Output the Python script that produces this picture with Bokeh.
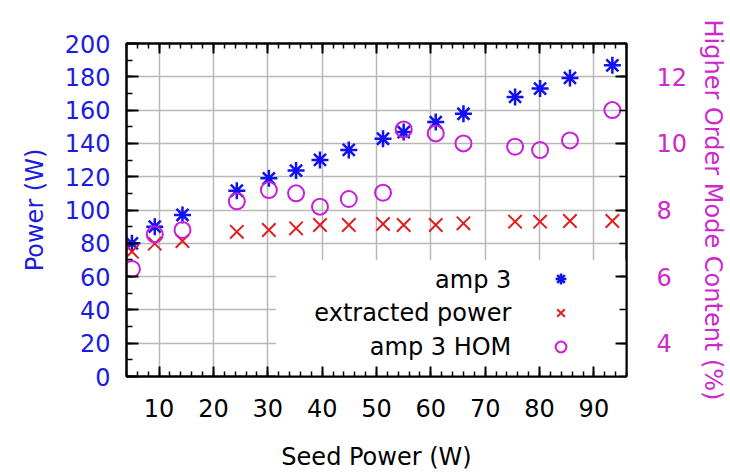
from bokeh.plotting import figure
from bokeh.models import (Range1d, LinearAxis, SingleIntervalTicker, Legend, LegendItem,
                          Label, BoxAnnotation)
from bokeh.embed import file_html
from bokeh.resources import INLINE

# ---- data ----
seed_power = [5.0, 9.2, 14.3, 24.3, 30.2, 35.2, 39.6, 44.9, 51.2, 55.0, 60.9, 66.0, 75.5, 80.1, 85.6, 93.4]
amp3_power = [80.0, 90.0, 97.0, 111.6, 119.0, 123.7, 130.1, 136.1, 142.8, 146.8, 152.8, 157.8, 167.9, 172.9, 179.3, 186.9]
extracted_power = [75.0, 79.8, 81.4, 86.9, 88.0, 89.0, 91.0, 91.0, 91.6, 91.0, 91.0, 92.0, 93.0, 93.0, 93.4, 93.4]
amp3_hom = [6.23, 7.27, 7.4, 8.26, 8.6, 8.5, 8.1, 8.33, 8.52, 10.42, 10.3, 10.0, 9.9, 9.8, 10.09, 11.0]
series_names = ["amp 3", "extracted power", "amp 3 HOM"]

FONT = "DejaVu Sans"
BLUE_TXT = "#1c1ce0"
BLUE = "#1010f0"
RED = "#e02020"
MAG = "#c81ed8"
MAG_TXT = "#cc2acc"

p = figure(width=730, height=476, output_backend="svg", toolbar_location=None,
           x_range=Range1d(4, 96), y_range=Range1d(0, 200),
           min_border_left=126, min_border_right=100, min_border_top=43, min_border_bottom=100)
p.extra_y_ranges = {"hom": Range1d(3, 13)}
p.outline_line_color = "black"
p.outline_line_width = 2
p.background_fill_color = "white"
p.border_fill_color = "white"

xt = SingleIntervalTicker(interval=10, num_minor_ticks=5)
yt = SingleIntervalTicker(interval=20, num_minor_ticks=2)
rt = SingleIntervalTicker(interval=2, num_minor_ticks=2)


def style_axis(ax, color):
    ax.axis_line_color = "black"
    ax.axis_line_width = 2
    ax.major_tick_line_color = "black"
    ax.minor_tick_line_color = "black"
    ax.major_tick_line_width = 2
    ax.minor_tick_line_width = 1.5
    ax.major_tick_in = 10
    ax.major_tick_out = 0
    ax.minor_tick_in = 5
    ax.minor_tick_out = 0
    ax.major_label_text_font = FONT
    ax.major_label_text_font_size = "24px"
    ax.major_label_text_color = color
    ax.axis_label_text_font = FONT
    ax.axis_label_text_font_size = "24px"
    ax.axis_label_text_font_style = "normal"
    ax.axis_label_text_color = color


xa = p.xaxis[0]
xa.ticker = xt
style_axis(xa, "black")
xa.axis_label = "Seed Power (W)"
xa.major_label_standoff = 22
xa.axis_label_standoff = 23

ya = p.yaxis[0]
ya.ticker = yt
style_axis(ya, BLUE_TXT)
ya.axis_label = "Power (W)"
ya.major_label_standoff = 16
ya.axis_label_standoff = 13
ya.minor_tick_in = 6
ya.major_tick_in = 12

ra = LinearAxis(y_range_name="hom", ticker=rt)
style_axis(ra, MAG_TXT)
ra.axis_label = "Higher Order Mode Content (%)"
ra.major_label_standoff = 30
ra.axis_label_standoff = 9
ra.minor_tick_in = 7
ra.major_tick_in = 11
p.add_layout(ra, "right")

ta = LinearAxis(ticker=xt)
style_axis(ta, "black")
ta.major_label_text_alpha = 0
ta.major_label_text_font_size = "1px"
ta.major_label_standoff = 0
p.add_layout(ta, "above")

for g, t in ((p.xgrid[0], xt), (p.ygrid[0], yt)):
    g.ticker = t
    g.grid_line_color = "#b8b8b8"
    g.grid_line_width = 1.5

# white legend background (hides grid lines)
p.add_layout(BoxAnnotation(left=31.5, top=70, fill_color="white", fill_alpha=1,
                           line_color=None, level="underlay"))

r1 = p.scatter(seed_power, amp3_power, marker="asterisk", size=17, line_color=BLUE, line_width=2.5)
r2 = p.scatter(seed_power, extracted_power, marker="x", size=19, line_color=RED, line_width=2)
r3 = p.scatter(seed_power, amp3_hom, marker="circle", size=16, fill_color=None,
               line_color=MAG, line_width=2, y_range_name="hom")

legend = Legend(items=[LegendItem(label=" ", renderers=[r]) for r in (r1, r2, r3)],
                location=(421, 16), glyph_width=27, glyph_height=27, spacing=7,
                padding=0, margin=0, border_line_color=None, background_fill_alpha=0,
                label_text_font_size="1px", label_standoff=0, label_width=1, label_height=27)
p.add_layout(legend, "center")

for name, yv in zip(series_names, [57.8, 38.0, 17.5]):
    p.add_layout(Label(x=74.8, y=yv, text=name, text_align="right", text_baseline="middle",
                       text_font=FONT, text_font_size="24px", text_color="black"))

open("out.html", "w").write(file_html(p, INLINE))
